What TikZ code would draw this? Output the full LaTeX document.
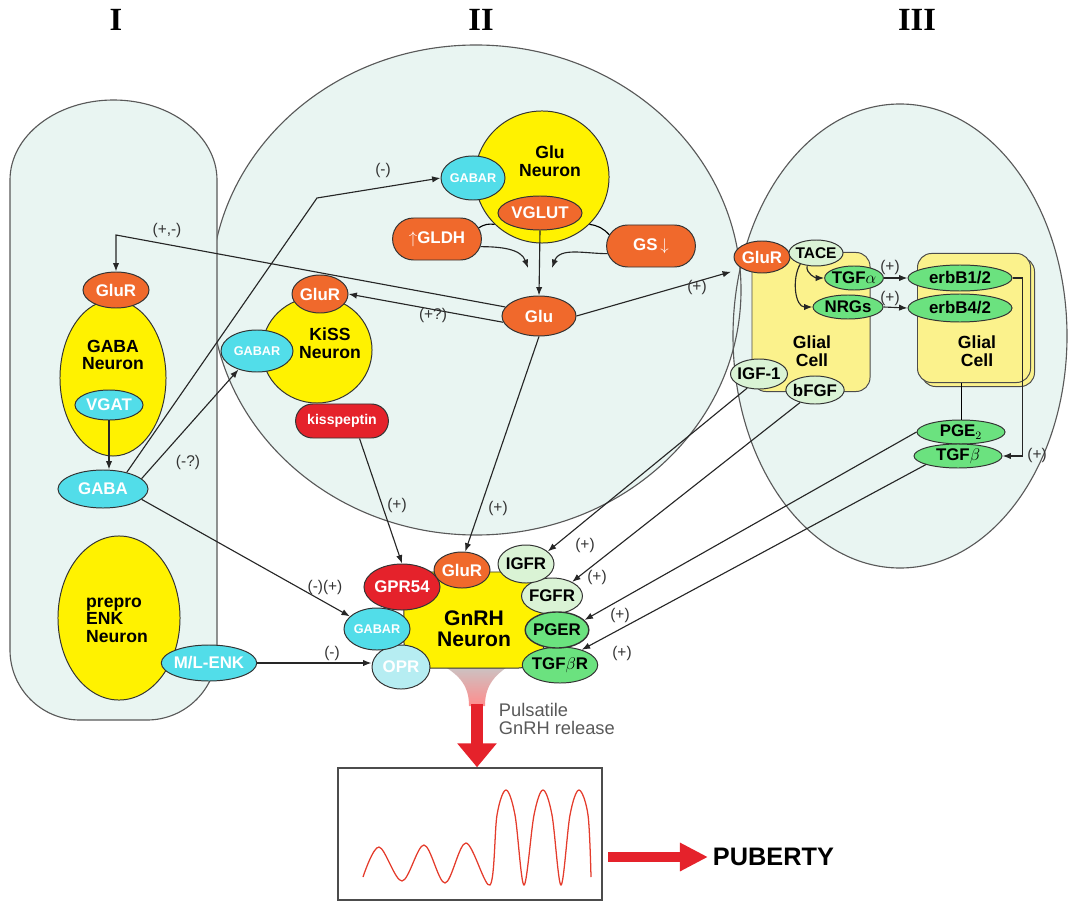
\documentclass[tikz,border=0pt]{standalone}
\usepackage{fontspec}
\setmainfont{Liberation Serif}
\setsansfont{Liberation Sans}
\usetikzlibrary{shapes.geometric,shapes.misc,arrows.meta}
\definecolor{regfill}{HTML}{E9F5F2}
\definecolor{gelb}{HTML}{FFF200}
\definecolor{gliagelb}{HTML}{FBF28C}
\definecolor{orng}{HTML}{F0692C}
\definecolor{cyn}{HTML}{52DDE9}
\definecolor{hcyn}{HTML}{B6EDF2}
\definecolor{rot}{HTML}{E5222B}
\definecolor{grn}{HTML}{6BE27F}
\definecolor{hgrn}{HTML}{DAF3D5}
\definecolor{welle}{HTML}{E43C2C}
\newcommand{\schrift}[1]{\fontsize{#1}{#1}\selectfont}
\begin{document}
\begin{tikzpicture}[x=0.025cm, y=-0.025cm, >={Latex[length=6pt,width=4.5pt]},
  rez/.style={ellipse, draw=black!80, line width=0.7pt, inner sep=-1pt, font=\sffamily\bfseries\schrift{12pt}},
  orez/.style={rez, fill=orng, text=white},
  crez/.style={rez, fill=cyn, text=white},
  hcrez/.style={rez, fill=hcyn, text=white},
  rrez/.style={rez, fill=rot, text=white},
  grez/.style={rez, fill=grn},
  hrez/.style={rez, fill=hgrn},
  klein/.style={font=\sffamily\bfseries\schrift{9pt}},
  zelle/.style={ellipse, draw=black!80, line width=0.7pt, fill=gelb, inner sep=0pt},
  glia/.style={rectangle, rounded corners=10pt, draw=black!70, line width=0.7pt, fill=gliagelb},
  ntext/.style={align=center, font=\sffamily\bfseries\schrift{12.5pt}},
  lbl/.style={font=\sffamily\schrift{11pt}, text=black!80},
  pfeil/.style={->, line width=0.8pt, draw=black!85},
  region/.style={draw=black!65, line width=0.8pt},
  blockpf/.style={draw=rot, line width=9pt, -{Triangle[length=17pt,width=27pt]}}
]
\useasboundingbox (0,0) rectangle (1069,905);
%Regionen
\fill[regfill] (476,290) ellipse[x radius=265, y radius=245];
\fill[regfill] (900,336) ellipse[x radius=167, y radius=232];
\draw[region] (476,290) ellipse[x radius=265, y radius=245];
\draw[region] (900,336) ellipse[x radius=167, y radius=232];
\draw[region, fill=regfill] (10,180) -- (10,650) arc[start angle=180, end angle=90, radius=70]
  -- (147,720) arc[start angle=90, end angle=0, radius=70]
  -- (217,180) arc[start angle=0, end angle=-180, x radius=103.5, y radius=80] -- cycle;
\node[font=\rmfamily\bfseries\schrift{23pt}] (r1) at (116,20) {I};
\node[font=\rmfamily\bfseries\schrift{23pt}] (r2) at (481,20) {II};
\node[font=\rmfamily\bfseries\schrift{23pt}] (r3) at (917,20) {III};

%Region I
\node[zelle, minimum width=2.65cm, minimum height=3.9cm] (gabaN) at (113,378) {};
\node[ntext] (gabaT) at (113,355) {GABA\\Neuron};
\node[orez, minimum width=1.65cm, minimum height=0.9cm] (gluR1) at (116,290) {GluR};
\node[crez, minimum width=1.7cm, minimum height=0.75cm] (vgat) at (109,405) {VGAT};
\node[crez, minimum width=2.25cm, minimum height=0.95cm] (gaba1) at (103,489) {GABA};
\node[zelle, minimum width=3.05cm, minimum height=4.1cm] (enkN) at (119,618) {};
\node[ntext, align=left] (enkT) at (117,620) {prepro\\ENK\\Neuron};
\node[crez, minimum width=2.3cm, minimum height=0.9cm] (mlenk) at (209,663) {M/L-ENK};

%Region II
\node[zelle, minimum width=3.35cm, minimum height=3.3cm] (gluN) at (542,177) {};
\node[ntext] (gluT) at (550,161) {Glu\\Neuron};
\node[crez, klein, minimum width=1.6cm, minimum height=1.1cm] (gabaR1) at (473,178) {GABAR};
\node[orez, minimum width=2.1cm, minimum height=0.85cm] (vglut) at (540,213) {VGLUT};
\node[orez, rounded rectangle, minimum width=2.15cm, minimum height=1.05cm] (gldh) at (437,239) {$\uparrow$GLDH};
\node[orez, rounded rectangle, minimum width=2.15cm, minimum height=1.05cm] (gs) at (651,246) {GS\,$\downarrow$};
\node[orez, minimum width=1.85cm, minimum height=1cm] (glu) at (539,316) {Glu};
\coordinate (gl1) at (528,268);
\coordinate (gs1) at (552,268);
\node[zelle, minimum width=2.75cm, minimum height=2.65cm] (kissN) at (317,350) {};
\node[ntext] (kissT) at (330,343) {KiSS\\Neuron};
\node[orez, minimum width=1.4cm, minimum height=0.95cm] (gluR2) at (320,294) {GluR};
\node[crez, klein, minimum width=1.8cm, minimum height=1.05cm] (gabaR2) at (257,351) {GABAR};
\node[rrez, rounded rectangle, font=\sffamily\bfseries\schrift{10pt}, minimum width=2.25cm, minimum height=0.85cm] (kiss) at (342,421) {kisspeptin};

%Region III
\node[glia, minimum width=2.95cm, minimum height=3.475cm] (glia1) at (811,322) {};
\node[glia, minimum width=2.825cm, minimum height=3.225cm] (glia2b) at (978,322) {};
\node[glia, minimum width=2.825cm, minimum height=3.225cm] (glia2) at (974,318) {};
\node[ntext] (glia1T) at (812,351) {Glial\\Cell};
\node[ntext] (glia2T) at (977,351) {Glial\\Cell};
\node[orez, minimum width=1.4cm, minimum height=0.8cm] (gluR3) at (762,257) {GluR};
\node[hrez, font=\sffamily\bfseries\schrift{11pt}, minimum width=1.35cm, minimum height=0.65cm] (tace) at (816,253) {TACE};
\node[grez, minimum width=1.45cm, minimum height=0.6cm] (tgfa) at (854,278) {TGF$\alpha$};
\node[grez, minimum width=1.75cm, minimum height=0.6cm] (nrgs) at (848,307) {NRGs};
\node[grez, minimum width=2.6cm, minimum height=0.65cm] (erbB12) at (960,278) {erbB1/2};
\node[grez, minimum width=2.6cm, minimum height=0.7cm] (erbB42) at (960,308) {erbB4/2};
\node[hrez, minimum width=1.4cm, minimum height=0.75cm] (igf1) at (759,374) {IGF-1};
\node[hrez, minimum width=1.35cm, minimum height=0.7cm] (bfgf) at (815,390) {bFGF};
\node[grez, minimum width=2.2cm, minimum height=0.6cm] (pge2) at (961,432) {PGE$_2$};
\node[grez, minimum width=2.2cm, minimum height=0.6cm] (tgfb) at (958,456) {TGF$\beta$};

%GnRH Neuron
\coordinate (trichter) at (477,704);
\shade[top color=black!22, bottom color=red!45] (440,664) .. controls (462,676) and (469,688) .. (469,706)
  -- (485,706) .. controls (485,688) and (492,676) .. (512,664) -- cycle;
\node[zelle, rectangle, rounded corners=18pt, minimum width=3.5cm, minimum height=2.4cm] (gnrhN) at (474,620) {};
\node[ntext, font=\sffamily\bfseries\schrift{15pt}] (gnrhT) at (474,629) {GnRH\\Neuron};
\node[grez, minimum width=1.6cm, minimum height=0.9cm] (tgfbr) at (560,665) {TGF$\beta$R};
\node[hrez, minimum width=1.5cm, minimum height=0.9cm] (fgfr) at (552,596) {FGFR};
\node[grez, line width=1pt, minimum width=1.5cm, minimum height=0.9cm] (pger) at (557,630) {PGER};
\node[hrez, minimum width=1.4cm, minimum height=0.95cm] (igfr) at (526,564) {IGFR};
\node[hcrez, minimum width=1.45cm, minimum height=1.1cm] (opr) at (401,667) {OPR};
\node[crez, klein, minimum width=1.65cm, minimum height=1.05cm] (gabaR3) at (377,629) {GABAR};
\node[rrez, minimum width=1.9cm, minimum height=1.15cm] (gpr54) at (402,587) {GPR54};
\node[orez, minimum width=1.4cm, minimum height=0.9cm] (gluR4) at (462,570) {GluR};
\node[anchor=west, align=left, font=\sffamily\schrift{13pt}, text=black!65] (puls) at (494,719) {Pulsatile\\GnRH release};

%Kasten
\node[draw=black!70, line width=1pt, minimum width=6.6cm, minimum height=3.3cm] (kasten) at (470,834) {};
\draw[welle, line width=0.9pt] plot[smooth, tension=0.55] coordinates {(363,877) (379,847) (402,881) (424,845) (445,883) (466,843) (490,885)
  (497,815) (506,790) (515,815) (524,885) (534,815) (543,790) (552,815) (561,885) (570,815) (579,790) (588,815) (591,877)};
\node[font=\sffamily\bfseries\schrift{18pt}, anchor=west] (pub) at (708,857) {PUBERTY};
\coordinate (pfz) at (trichter |- kasten.north);
\draw[blockpf] (trichter) -- (pfz);
\draw[blockpf, line width=7pt, -{Triangle[length=20pt,width=19pt]}, shorten <=4pt] (kasten.east |- pub.west) -- (pub.west);

%Verbindungen
\coordinate (k1) at (317,198);
\coordinate (k2) at (116,235);
\draw[pfeil] (vgat.south) -- (vgat.south |- gaba1.north);
\draw[pfeil] (gaba1.35) -- (k1) -- (gabaR1.west);
\draw[pfeil] (gaba1.15) -- (gabaR2.-135);
\draw[pfeil] (gaba1.-15) -- (gabaR3.155);
\draw[pfeil] (mlenk.east) -- (mlenk.east -| opr.west);
\draw[pfeil] (glu.165) -- (k2) -- (gluR1.north);
\draw[pfeil] (glu.190) -- (gluR2.east);
\draw[pfeil, shorten >=8pt] (glu.east) -- (gluR3.210);
\draw[pfeil] (glu.south) -- (gluR4.80);
\draw[pfeil] (vglut.south) -- (glu.north);
\draw[pfeil] (gldh.-10) to[out=0, in=110] (gl1);
\draw[pfeil] (gs.190) to[out=180, in=70] (gs1);
\draw[line width=0.8pt] (gldh.15) to[bend left=20] (gluN.225);
\draw[line width=0.8pt] (gs.165) to[bend right=20] (gluN.-45);
\draw[pfeil] (kiss.-45) -- (gpr54.north);
\draw[pfeil] (igf1.-130) -- (igfr.30);
\draw[pfeil] (bfgf.-140) -- (fgfr.35);
\draw[pfeil] (pge2.west) -- (pger.20);
\draw[pfeil] (tgfb.195) -- (tgfbr.35);
\draw[pfeil] (tgfa.east) -- (erbB12.west);
\draw[pfeil] (nrgs.east) -- (erbB42.west);
\draw[pfeil] (erbB12.east) -- ++(10,0) |- (tgfb.east);
\draw[pfeil] (tace.235) to[out=260, in=180] (tgfa.west);
\draw[pfeil] (tace.215) to[out=240, in=180] (nrgs.west);
\draw[line width=0.6pt] (pge2.north |- glia2.south) -- (pge2.north);

%Beschriftung
\node[lbl] (l1) at (383,170) {(-)};
\node[lbl] (l2) at (188,462) {(-?)};
\node[lbl] (l3) at (325,587) {(-)(+)};
\node[lbl] (l4) at (332,653) {(-)};
\node[lbl] (l5) at (167,230) {(+,-)};
\node[lbl] (l6) at (433,315) {(+?)};
\node[lbl] (l7) at (697,287) {(+)};
\node[lbl] (l8) at (498,508) {(+)};
\node[lbl] (l9) at (397,505) {(+)};
\node[lbl] (l10) at (585,545) {(+)};
\node[lbl] (l11) at (597,577) {(+)};
\node[lbl] (l12) at (620,615) {(+)};
\node[lbl] (l13) at (622,653) {(+)};
\node[lbl] (l14) at (890,267) {(+)};
\node[lbl] (l15) at (890,298) {(+)};
\node[lbl] (l16) at (1037,455) {(+)};
\end{tikzpicture}
\end{document}
